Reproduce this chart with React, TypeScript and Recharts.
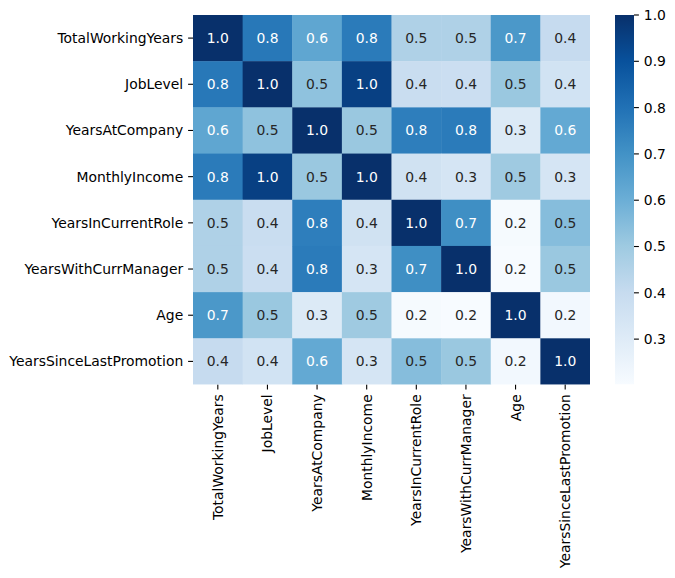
import { ScatterChart, Scatter, XAxis, YAxis, BarChart, Bar } from 'recharts';

// variables, same order on both axes
const labels = [
  'TotalWorkingYears',
  'JobLevel',
  'YearsAtCompany',
  'MonthlyIncome',
  'YearsInCurrentRole',
  'YearsWithCurrManager',
  'Age',
  'YearsSinceLastPromotion',
];

const totalWorkingYears = [1.0, 0.78, 0.63, 0.77, 0.46, 0.46, 0.68, 0.4];
const jobLevel = [0.78, 1.0, 0.53, 0.951, 0.39, 0.38, 0.51, 0.354];
const yearsAtCompany = [0.63, 0.53, 1.0, 0.51, 0.76, 0.77, 0.31, 0.62];
const monthlyIncome = [0.77, 0.951, 0.51, 1.0, 0.36, 0.34, 0.5, 0.34];
const yearsInCurrentRole = [0.46, 0.39, 0.76, 0.36, 1.0, 0.71, 0.21, 0.548];
const yearsWithCurrManager = [0.46, 0.38, 0.77, 0.34, 0.71, 1.0, 0.202, 0.51];
const age = [0.68, 0.51, 0.31, 0.5, 0.21, 0.202, 1.0, 0.22];
const yearsSinceLastPromotion = [0.4, 0.354, 0.62, 0.34, 0.548, 0.51, 0.22, 1.0];

const colorbarTicks = [0.3, 0.4, 0.5, 0.6, 0.7, 0.8, 0.9, 1.0];

const matrix = [
  totalWorkingYears,
  jobLevel,
  yearsAtCompany,
  monthlyIncome,
  yearsInCurrentRole,
  yearsWithCurrManager,
  age,
  yearsSinceLastPromotion,
];

const vmin = Math.min(...matrix.flat());
const vmax = Math.max(...matrix.flat());

// matplotlib "Blues"
const BLUES = ['#f7fbff', '#deebf7', '#c6dbef', '#9ecae1', '#6baed6', '#4292c6', '#2171b5', '#08519c', '#08306b'];

const hexToRgb = (h: string) => [1, 3, 5].map(i => parseInt(h.slice(i, i + 2), 16) / 255);

const blues = (v: number) => {
  let t = (v - vmin) / (vmax - vmin);
  t = Math.max(0, Math.min(1, t));
  const p = t * (BLUES.length - 1);
  const i = Math.min(Math.floor(p), BLUES.length - 2);
  const f = p - i;
  const a = hexToRgb(BLUES[i]);
  const b = hexToRgb(BLUES[i + 1]);
  return a.map((c, k) => c + (b[k] - c) * f);
};

const toCss = (rgb: number[]) => `rgb(${rgb.map(c => Math.round(c * 255)).join(',')})`;

// seaborn picks the annotation colour from the relative luminance
const textColor = (rgb: number[]) => {
  const lin = rgb.map(c => (c <= 0.03928 ? c / 12.92 : Math.pow((c + 0.055) / 1.055, 2.4)));
  const lum = lin[0] * 0.2126 + lin[1] * 0.7152 + lin[2] * 0.0722;
  return lum > 0.408 ? '#262626' : '#ffffff';
};

const cells = matrix.flatMap((row, i) =>
  row.map((v, j) => ({ x: j + 0.5, y: i + 0.5, v }))
);

const FONT = 'DejaVu Sans, sans-serif';
const FS = 13.9;
const WIDTH = 675;
const HEIGHT = 578;
const PLOT_LEFT = 193;
const PLOT_RIGHT = 590;
const PLOT_TOP = 15;
const PLOT_BOTTOM = 384.5;
const CELL_W = (PLOT_RIGHT - PLOT_LEFT) / labels.length;
const CELL_H = (PLOT_BOTTOM - PLOT_TOP) / labels.length;
const centers = labels.map((_, i) => i + 0.5);

const HeatCell = (props: any) => {
  const { cx, cy, payload } = props;
  const rgb = blues(payload.v);
  return (
    <g>
      <rect
        x={cx - CELL_W / 2}
        y={cy - CELL_H / 2}
        width={CELL_W + 0.4}
        height={CELL_H + 0.4}
        fill={toCss(rgb)}
      />
      <text
        x={cx}
        y={cy}
        textAnchor="middle"
        dominantBaseline="central"
        fontFamily={FONT}
        fontSize={FS}
        fill={textColor(rgb)}
      >
        {payload.v.toFixed(1)}
      </text>
    </g>
  );
};

const XTick = ({ x, y, payload }: any) => (
  <text
    x={x}
    y={y}
    transform={`rotate(-90, ${x}, ${y})`}
    textAnchor="end"
    dominantBaseline="central"
    fontFamily={FONT}
    fontSize={FS}
    fill="#000"
  >
    {labels[Math.floor(payload.value)]}
  </text>
);

const YTick = ({ x, y, payload }: any) => (
  <text
    x={x}
    y={y}
    textAnchor="end"
    dominantBaseline="central"
    fontFamily={FONT}
    fontSize={FS}
    fill="#000"
  >
    {labels[Math.floor(payload.value)]}
  </text>
);

const colorbarData = [{ name: 'cb', range: [vmin, vmax] }];

export default function App() {
  return (
    <div style={{ position: 'absolute', left: 0, top: 0, width: WIDTH, height: HEIGHT, background: '#fff' }}>
      <ScatterChart
        width={WIDTH}
        height={HEIGHT}
        margin={{ top: PLOT_TOP, right: WIDTH - PLOT_RIGHT, bottom: 0, left: 0 }}
      >
        <XAxis
          dataKey="x"
          type="number"
          domain={[0, labels.length]}
          ticks={centers}
          interval={0}
          height={HEIGHT - PLOT_BOTTOM}
          axisLine={false}
          tickSize={4.9}
          tickMargin={4.9}
          tickLine={{ stroke: '#000', strokeWidth: 1.1 }}
          tick={<XTick />}
          allowDataOverflow
        />
        <YAxis
          dataKey="y"
          type="number"
          domain={[0, labels.length]}
          reversed
          ticks={centers}
          interval={0}
          width={PLOT_LEFT}
          axisLine={false}
          tickSize={4.9}
          tickMargin={4.9}
          tickLine={{ stroke: '#000', strokeWidth: 1.1 }}
          tick={<YTick />}
          allowDataOverflow
        />
        <Scatter data={cells} shape={<HeatCell />} isAnimationActive={false} />
      </ScatterChart>

      <div style={{ position: 'absolute', left: 615, top: 0 }}>
        <BarChart
          width={60}
          height={HEIGHT}
          data={colorbarData}
          barCategoryGap={0}
          margin={{ top: PLOT_TOP, right: 0, bottom: HEIGHT - PLOT_BOTTOM, left: 0 }}
        >
          <defs>
            <linearGradient id="cbar" x1="0" y1="0" x2="0" y2="1">
              {BLUES.slice().reverse().map((c, k) => (
                <stop key={k} offset={`${(k / (BLUES.length - 1)) * 100}%`} stopColor={c} />
              ))}
            </linearGradient>
          </defs>
          <XAxis dataKey="name" type="category" hide />
          <YAxis
            orientation="right"
            type="number"
            domain={[vmin, vmax]}
            ticks={colorbarTicks}
            interval={0}
            width={41}
            axisLine={false}
            tickSize={4.9}
            tickMargin={4.9}
            tickLine={{ stroke: '#000', strokeWidth: 1.1 }}
            tick={{ fill: '#000', fontSize: FS, fontFamily: FONT }}
            tickFormatter={(v: number) => v.toFixed(1)}
            allowDataOverflow
          />
          <Bar dataKey="range" fill="url(#cbar)" isAnimationActive={false} />
        </BarChart>
      </div>
    </div>
  );
}
